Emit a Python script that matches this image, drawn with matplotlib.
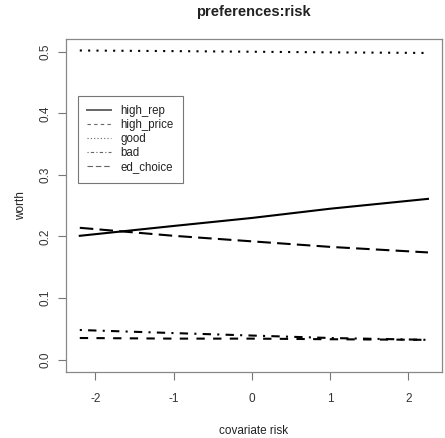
import matplotlib
matplotlib.use('Agg')
import matplotlib.pyplot as plt
import matplotlib.font_manager as fm
from matplotlib.lines import Line2D

# pick the regular Liberation Sans (Arial metrics), not the narrow cut
fam = 'Liberation Sans'
for f in fm.fontManager.ttflist:
    if f.name == 'Liberation Sans' and 'Narrow' not in f.fname:
        break
else:
    fam = 'DejaVu Sans'
plt.rcParams['font.family'] = [fam, 'DejaVu Sans']
plt.rcParams['axes.unicode_minus'] = False

risk = [-2.2, -1.0, 0.0, 1.0, 2.25]

high_rep = [0.201, 0.217, 0.230, 0.245, 0.261]
high_price = [0.035, 0.034, 0.034, 0.033, 0.032]
good = [0.502, 0.501, 0.500, 0.499, 0.498]
bad = [0.048, 0.043, 0.039, 0.035, 0.032]
ed_choice = [0.214, 0.201, 0.192, 0.183, 0.174]

labels = ['high_rep', 'high_price', 'good', 'bad', 'ed_choice']
series = [high_rep, high_price, good, bad, ed_choice]
dash_styles = ['-', (0, (4, 4)), (0, (1, 3)), (0, (1, 3, 4, 3)), (0, (6.5, 3))]
legend_dashes = ['-', (0, (3, 3)), (0, (1, 2)), (0, (1, 2, 3, 2)), (0, (5, 2.5))]

fig = plt.figure(figsize=(4.45, 4.38), dpi=100)
ax = fig.add_axes([0.148, 0.151, 0.845, 0.759])

for vals, ls in zip(series, dash_styles):
    ax.plot(risk, vals, color='black', linewidth=1.5, linestyle=ls)

ax.set_xlim(-2.378, 2.428)
ax.set_ylim(-0.02, 0.52)
ax.set_xticks([-2, -1, 0, 1, 2])
ax.set_yticks([0.0, 0.1, 0.2, 0.3, 0.4, 0.5])
ax.set_yticklabels(['0.0', '0.1', '0.2', '0.3', '0.4', '0.5'], rotation=90, va='center')
ax.tick_params(colors='#777777', labelcolor='#333333', labelsize=8.5, length=5.5, width=0.8)
ax.tick_params(axis='x', pad=10)
ax.tick_params(axis='y', pad=5)
for s in ax.spines.values():
    s.set_color('#888888')
    s.set_linewidth(0.9)

ax.set_xlabel('covariate risk', fontsize=8.5, color='#222222', labelpad=14)
ax.set_ylabel('worth', fontsize=8.5, color='#222222', labelpad=9)
ax.set_title('preferences:risk', fontsize=10.5, fontweight='bold', color='#222222', pad=17)

handles = [Line2D([0], [0], color='#666666', linewidth=0.8 if i else 1.4, linestyle=ls)
           for i, ls in enumerate(legend_dashes)]
leg = ax.legend(handles, labels, loc='upper left', bbox_to_anchor=(0.032, 0.83),
                fontsize=8.3, handlelength=2.1, labelspacing=0.18, handletextpad=0.8,
                borderpad=0.8, borderaxespad=0, fancybox=False, framealpha=1)
leg.get_frame().set_edgecolor('#777777')
leg.get_frame().set_linewidth(0.8)
for t in leg.get_texts():
    t.set_color('#222222')

fig.savefig('out.png', dpi=100)
